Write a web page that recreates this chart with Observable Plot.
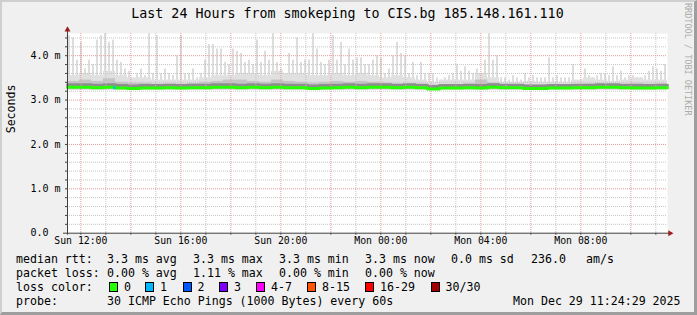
<!DOCTYPE html>
<html><head><meta charset="utf-8">
<script src="https://cdn.jsdelivr.net/npm/d3@7"></script>
<script src="https://cdn.jsdelivr.net/npm/@observablehq/plot@0.6"></script>
<style>
html,body{margin:0;padding:0;background:#f0f0f0;}
#chart{position:relative;width:697px;height:315px;background:#f0f0f0;font-family:"DejaVu Sans Mono",monospace;overflow:hidden;color:#000;}
#frame{position:absolute;left:0;top:0;width:697px;height:315px;box-sizing:border-box;border-left:2px solid #cfcfcf;border-top:2px solid #cfcfcf;border-right:3px solid #9e9e9e;border-bottom:3px solid #9e9e9e;pointer-events:none;}
#title{position:absolute;left:15px;top:2px;width:665px;height:24px;line-height:24px;text-align:center;font-size:13.3px;white-space:pre;}
#plotwrap{position:absolute;left:0;top:26px;width:680px;height:224px;}
#plotwrap svg{display:block;}
#rrd{position:absolute;left:683px;top:3px;width:10px;height:240px;writing-mode:vertical-rl;font-size:8.5px;color:#ababab;white-space:pre;line-height:10px;}
#legend{position:absolute;left:0;top:250px;width:697px;height:62px;font-size:11.6px;}
#legend span.t{position:absolute;white-space:pre;line-height:14px;}
#legend span.b{position:absolute;width:9px;height:10px;box-sizing:border-box;border:1px solid #000;}
</style>
</head><body>
<div id="chart">
  <div id="title"></div>
  <div id="plotwrap"></div>
  <div id="rrd"></div>
  <div id="legend"></div>
  <div id="frame"></div>
</div>
<script>
// ---------------- DATA ----------------
const titleText = "Last 24 Hours from smokeping to CIS.bg 185.148.161.110";
const yAxisTitle = "Seconds";
const watermark = "RRDTOOL / TOBI OETIKER";

// window: Sun Dec 28 2025 11:28 -> Mon Dec 29 2025 11:28 (UTC used as wall clock)
const windowStart = "2025-12-28T11:28:00Z";
const windowEnd   = "2025-12-29T11:28:00Z";

// x tick labels
const xTickTimes  = ["2025-12-28T12:00:00Z","2025-12-28T16:00:00Z","2025-12-28T20:00:00Z","2025-12-29T00:00:00Z","2025-12-29T04:00:00Z","2025-12-29T08:00:00Z"];
const xTickLabels = ["Sun 12:00","Sun 16:00","Sun 20:00","Mon 00:00","Mon 04:00","Mon 08:00"];

// y ticks (ms)
const yTickValues = [0, 1, 2, 3, 4];
const yTickLabels = ["0.0", "1.0 m", "2.0 m", "3.0 m", "4.0 m"];

// smoke: lowest ping (ms)
const smokeMin = 3.23;
// smoke: highest ping per 9.6-minute bin (150 bins), ms
const smokeMax = [
  4.45,4.4,3.9,4.3,3.7,3.9,3.8,4.35,4.45,4.5,4.3,4.35,3.9,3.85,3.7,3.65,3.45,3.6,3.7,3.55,
  4.5,3.6,4.45,3.6,3.7,3.6,3.55,4.0,4.45,3.6,3.6,3.7,3.5,3.6,3.9,4.25,4.25,4.15,
  4.15,3.85,3.8,4.15,4.1,4.05,3.85,3.9,3.8,4.35,3.85,4.1,3.9,4.5,3.85,3.7,3.6,4.05,3.9,4.4,
  3.85,3.9,3.9,4.5,4.15,3.85,3.8,3.9,4.45,3.9,4.3,3.8,4.15,3.9,3.95,3.95,3.8,3.8,
  3.9,4.0,3.95,3.6,3.7,4.0,4.3,4.05,4.0,3.6,3.85,3.55,3.85,3.6,3.6,3.6,3.5,3.45,3.5,3.55,
  3.6,3.8,3.65,3.75,3.65,3.6,3.7,3.6,3.9,4.5,3.9,4.0,3.5,3.5,3.45,3.55,3.5,3.45,
  3.6,3.5,3.55,3.5,3.5,3.5,3.95,3.5,3.55,3.5,3.5,3.5,3.8,3.4,3.45,3.7,3.55,3.5,3.55,3.6,
  3.6,3.55,3.75,3.55,3.65,3.5,3.55,3.55,3.5,3.5,3.55,3.65,3.75,3.7,3.65,3.8
];
// smoke: dense upper band per 28.8-minute bin (50 bins), ms
const smokeBase = [
  3.55,3.6,3.55,3.65,3.55,3.5,3.5,3.45,3.45,3.45,
  3.45,3.5,3.55,3.55,3.6,3.6,3.55,3.65,3.6,3.6,
  3.55,3.55,3.6,3.55,3.6,3.55,3.5,3.55,3.5,3.45,
  3.4,3.45,3.45,3.45,3.6,3.5,3.4,3.4,3.42,3.4,
  3.4,3.4,3.45,3.5,3.45,3.42,3.45,3.5,3.45,3.45
];
// smoke: inner (darker) band per 28.8-minute bin, ms
const smokeInner = [
  3.42,3.45,3.42,3.48,3.4,3.38,3.38,3.36,3.36,3.36,
  3.37,3.4,3.42,3.45,3.45,3.42,3.4,3.45,3.42,3.4,
  3.38,3.4,3.42,3.4,3.42,3.4,3.38,3.36,3.36,3.35,
  3.34,3.35,3.35,3.36,3.45,3.38,3.34,3.34,3.34,3.34,
  3.34,3.33,3.35,3.36,3.36,3.35,3.35,3.38,3.36,3.36
];
// median rtt per 28.8-minute bin, ms
const medianRtt = [
  3.29,3.29,3.28,3.29,3.27,3.26,3.27,3.27,3.28,3.27,
  3.28,3.28,3.29,3.29,3.28,3.29,3.28,3.29,3.28,3.28,
  3.26,3.27,3.28,3.29,3.28,3.29,3.29,3.28,3.29,3.28,
  3.25,3.27,3.27,3.28,3.27,3.29,3.28,3.28,3.26,3.26,
  3.27,3.27,3.28,3.28,3.29,3.29,3.28,3.27,3.27,3.28
];
// loss events on the median line
const lossEvents = [{start: "2025-12-28T13:18:00Z", end: "2025-12-28T13:23:00Z", rtt: 3.28, loss: 1}];

// legend
const rttLabel = "median rtt:";
const rttStats = ["3.3 ms avg", "3.3 ms max", "3.3 ms min", "3.3 ms now", "0.0 ms sd", "236.0", "am/s"];
const lossLabel = "packet loss:";
const lossStats = ["0.00 % avg", "1.11 % max", "0.00 % min", "0.00 % now"];
const lossColorLabel = "loss color:";
const lossLabels = ["0", "1", "2", "3", "4-7", "8-15", "16-29", "30/30"];
const lossColors = ["#26ff00", "#00b8ff", "#0059ff", "#7e00ff", "#ff00ff", "#ff5500", "#ff0000", "#a10000"];
const probeLabel = "probe:";
const probeText = "30 ICMP Echo Pings (1000 Bytes) every 60s";
const timestampText = "Mon Dec 29 11:24:29 2025";

// ---------------- BUILD ----------------
document.getElementById("title").textContent = titleText;
document.getElementById("rrd").textContent = watermark;

const t0 = new Date(windowStart), t1 = new Date(windowEnd);
const span = t1 - t0;
const fineStep = span / smokeMax.length;
const coarseStep = span / smokeBase.length;
const fine = smokeMax.map((v, i) => ({a: new Date(+t0 + i * fineStep), b: new Date(+t0 + (i + 1) * fineStep), lo: smokeMin, hi: v}));
const coarse = smokeBase.map((v, i) => ({a: new Date(+t0 + i * coarseStep), b: new Date(+t0 + (i + 1) * coarseStep), lo: smokeMin, base: v, inner: smokeInner[i]}));
const medPts = medianRtt.map((v, i) => ({t: new Date(+t0 + i * coarseStep), v}));
medPts.push({t: t1, v: medianRtt[medianRtt.length - 1]});
const lossSeg = lossEvents.map(d => ({a: new Date(d.start), b: new Date(d.end), v: d.rtt, c: lossColors[d.loss]}));

const hours = d3.utcHour.range(t0, t1);
const minorHours = hours.filter(d => d.getUTCHours() % 2 === 1);
const majorHours = hours.filter(d => d.getUTCHours() % 2 === 0);
const xTicks = xTickTimes.map(s => new Date(s));
const yAll = d3.range(1, 23).map(i => +(i * 0.2).toFixed(1));
const yMinor = yAll.filter(v => Math.abs(v - Math.round(v)) > 1e-6);
const yMajor = yTickValues.filter(v => v > 0);

const axisColor = "#404040";
const arrowColor = "#9c1c1c";

const plot = Plot.plot({
  width: 680, height: 224,
  marginLeft: 67, marginRight: 13, marginTop: 7, marginBottom: 17.3,
  x: {type: "utc", domain: [t0, t1]},
  y: {domain: [0, 4.5]},
  style: {fontFamily: "DejaVu Sans Mono", fontSize: "10px", background: "transparent", color: "#000", overflow: "visible"},
  marks: [
    Plot.frame({fill: "white", stroke: "none"}),
    // smoke
    Plot.rect(fine, {x1: "a", x2: "b", y1: "lo", y2: "hi", fill: "#dddddd", insetLeft: 1, insetRight: 1, clip: true}),
    Plot.rect(coarse, {x1: "a", x2: "b", y1: "lo", y2: "base", fill: "#e0e0e0", clip: true}),
    Plot.rect(coarse, {x1: "a", x2: "b", y1: "lo", y2: "inner", fill: "#c4c4c4", clip: true}),
    Plot.line(medPts, {x: "t", y: "v", curve: "step-after", stroke: "#8e8e8e", strokeWidth: 3, dy: -2.5}),
    // grid
    Plot.ruleX(minorHours, {stroke: "#c4c4c4", strokeDasharray: "1,1"}),
    Plot.ruleY(yMinor, {stroke: "#c4c4c4", strokeDasharray: "1,1"}),
    Plot.ruleX(majorHours, {stroke: "#e89a9a", strokeDasharray: "1,1"}),
    Plot.ruleY(yMajor, {stroke: "#e89a9a", strokeDasharray: "1,1"}),
    // median rtt
    Plot.line(medPts, {x: "t", y: "v", curve: "step-after", stroke: lossColors[0], strokeWidth: 3}),
    Plot.link(lossSeg, {x1: "a", x2: "b", y1: "v", y2: "v", stroke: "c", strokeWidth: 3}),
    // axes
    Plot.axisY(yAll, {tickSize: 2, tickFormat: () => "", stroke: axisColor}),
    Plot.axisX(hours, {tickSize: 2, tickFormat: () => "", stroke: axisColor}),
    Plot.axisY(yTickValues, {tickSize: 0, tickPadding: 7, fontSize: 10,
      tickFormat: d => yTickLabels[yTickValues.indexOf(d)].padEnd(5, "\u00a0")}),
    Plot.axisX(xTicks, {tickSize: 0, tickPadding: 4, fontSize: 9.8,
      tickFormat: d => xTickLabels[xTicks.findIndex(t => +t === +d)]}),
    Plot.ruleY([0], {stroke: axisColor, insetLeft: -4, insetRight: -2}),
    Plot.ruleX([t0], {stroke: axisColor, insetTop: -3, insetBottom: -2}),
    Plot.dot([0], {frameAnchor: "top-left", symbol: "triangle", r: 2.2, fill: arrowColor, dy: -3.8}),
    Plot.dot([0], {frameAnchor: "bottom-right", symbol: "triangle", r: 2.2, fill: arrowColor, rotate: 90, dx: 2.5}),
    Plot.text([yAxisTitle], {frameAnchor: "left", dx: -56, rotate: -90, fontSize: 11.6})
  ]
});
document.getElementById("plotwrap").appendChild(plot);

// legend
const legend = document.getElementById("legend");
function addText(x, row, s) {
  const el = document.createElement("span");
  el.className = "t";
  el.style.left = x + "px";
  el.style.top = (2 + row * 14) + "px";
  el.textContent = s;
  legend.appendChild(el);
}
function addBox(x, row, c) {
  const el = document.createElement("span");
  el.className = "b";
  el.style.left = x + "px";
  el.style.top = (4 + row * 14) + "px";
  el.style.background = c;
  legend.appendChild(el);
}
const statX = [107, 193, 279, 365, 451, 531, 586];
addText(16, 0, rttLabel);
rttStats.forEach((s, i) => addText(statX[i], 0, s));
addText(16, 1, lossLabel);
lossStats.forEach((s, i) => addText(statX[i], 1, s));
addText(16, 2, lossColorLabel);
const boxX = [109, 145, 182.5, 219, 256, 307, 365, 430.5];
lossLabels.forEach((s, i) => { addBox(boxX[i], 2, lossColors[i]); addText(boxX[i] + 15, 2, s); });
addText(16, 3, probeLabel);
addText(107, 3, probeText);
addText(513, 3, timestampText);
</script>
</body></html>
